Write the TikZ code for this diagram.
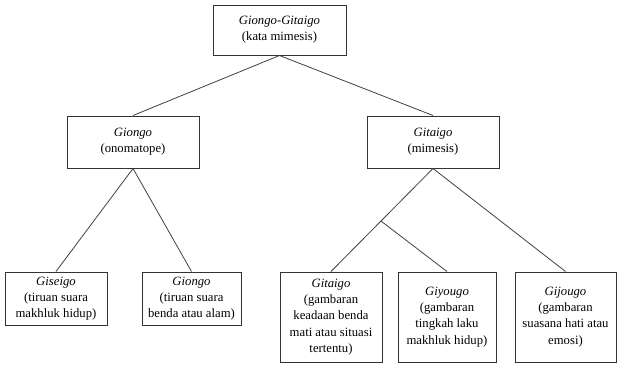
\documentclass[tikz,border=0pt]{standalone}
\usepackage{fontspec}
\setmainfont{Liberation Serif}
\usetikzlibrary{calc}
\begin{document}
\begin{tikzpicture}[x=1pt,y=-1pt,
  box/.style={draw=black!80,line width=1pt,align=center,inner sep=0pt,
    font=\fontsize{12.7}{16.2}\selectfont},
  link/.style={draw=black!75,line width=0.8pt}]
\useasboundingbox (0,0) rectangle (619,365);
\node[box,minimum width=133pt,minimum height=50pt] (top) at (279.5,30) {\textit{Giongo-Gitaigo}\\(kata mimesis)};
\node[box,minimum width=132pt,minimum height=52pt] (giongo) at (133,142) {\textit{Giongo}\\(onomatope)};
\node[box,minimum width=132pt,minimum height=52pt] (gitaigo) at (433,142) {\textit{Gitaigo}\\(mimesis)};
\node[box,minimum width=102pt,minimum height=53pt] (giseigo) at (56,298.5) {\textit{Giseigo}\\(tiruan suara\\makhluk hidup)};
\node[box,minimum width=99pt,minimum height=53pt] (giongob) at (191.5,298.5) {\textit{Giongo}\\(tiruan suara\\benda atau alam)};
\node[box,minimum width=102pt,minimum height=90pt] (gitaigob) at (331,317) {\textit{Gitaigo}\\(gambaran\\keadaan benda\\mati atau situasi\\tertentu)};
\node[box,minimum width=98pt,minimum height=90pt] (giyougo) at (447,317) {\textit{Giyougo}\\(gambaran\\tingkah laku\\makhluk hidup)};
\node[box,minimum width=101pt,minimum height=90pt] (gijougo) at (565.5,317) {\textit{Gijougo}\\(gambaran\\suasana hati atau\\emosi)};
\coordinate (branch) at ($(gitaigo.south)!0.51!(gitaigob.north)$);
\draw[link] (top.south) -- (giongo.north);
\draw[link] (top.south) -- (gitaigo.north);
\draw[link] (giongo.south) -- (giseigo.north);
\draw[link] (giongo.south) -- (giongob.north);
\draw[link] (gitaigo.south) -- (branch) -- (gitaigob.north);
\draw[link] (branch) -- (giyougo.north);
\draw[link] (gitaigo.south) -- (gijougo.north);
\end{tikzpicture}
\end{document}
